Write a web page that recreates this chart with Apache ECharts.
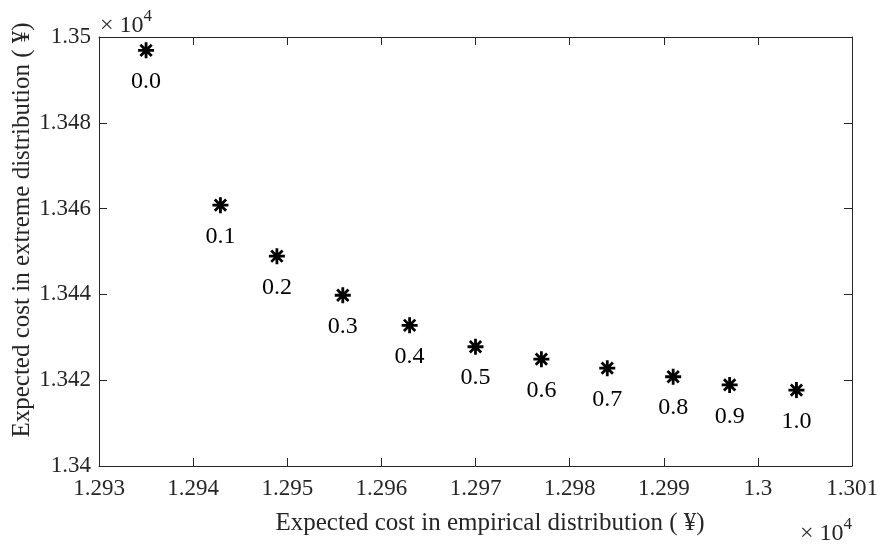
<!DOCTYPE html>
<html>
<head>
<meta charset="utf-8">
<script src="https://cdn.jsdelivr.net/npm/echarts@6/dist/echarts.min.js"></script>
<style>html,body{margin:0;padding:0;background:#fff}#c{width:889px;height:547px}</style>
</head>
<body>
<div id="c"></div>
<script>
// Data (values in yuan; axis shows ×10^4)
const weights = ['0.0','0.1','0.2','0.3','0.4','0.5','0.6','0.7','0.8','0.9','1.0'];
const empiricalCost = [12935.0, 12942.9, 12948.9, 12955.9, 12963.0, 12970.0, 12977.0, 12984.0, 12991.0, 12997.0, 13004.1];
const extremeCost   = [13496.9, 13460.8, 13448.9, 13439.8, 13432.8, 13427.8, 13424.9, 13422.8, 13420.8, 13418.9, 13417.7];
const xTickLabels = ['1.293','1.294','1.295','1.296','1.297','1.298','1.299','1.3','1.301'];
const yTickLabels = ['1.34','1.342','1.344','1.346','1.348','1.35'];
const xTitle = 'Expected cost in empirical distribution ( \u00A5)';
const yTitle = 'Expected cost in extreme distribution ( \u00A5)';

const FONT = '"Liberation Serif", "Times New Roman", serif';
const AX = '#262626';
const chart = echarts.init(document.getElementById('c'), null, {renderer: 'canvas'});

const baseAxis = {
  axisLine: {show: true, onZero: false, lineStyle: {color: AX, width: 1}},
  axisTick: {show: true, inside: true, length: 8, lineStyle: {color: AX, width: 1}},
  splitLine: {show: false},
};
const xMin = 12930, xMax = 13010, xInt = 10;
const yMin = 13400, yMax = 13500, yInt = 20;

const expText = (left, top) => ({type: 'text', left: left, top: top, style: {
  text: '{a|\u00D7 10}{b|4}', fill: '#262626',
  rich: {a: {fontFamily: FONT, fontSize: 24, verticalAlign: 'bottom', lineHeight: 30, fill: '#262626'},
         b: {fontFamily: FONT, fontSize: 17, verticalAlign: 'top', lineHeight: 30, fill: '#262626'}}}});

chart.setOption({
  animation: false,
  backgroundColor: '#fff',
  grid: {left: 99, right: 37, top: 37, bottom: 81, containLabel: false, outerBoundsMode: 'none'},
  xAxis: [
    Object.assign({}, baseAxis, {
      type: 'value', position: 'bottom', min: xMin, max: xMax, interval: xInt,
      axisLabel: {show: true, margin: 11, color: '#262626', fontFamily: FONT, fontSize: 23,
        formatter: v => xTickLabels[Math.round((v - xMin) / xInt)]}
    }),
    Object.assign({}, baseAxis, {
      type: 'value', position: 'top', min: xMin, max: xMax, interval: xInt,
      axisLabel: {show: false}
    })
  ],
  yAxis: [
    Object.assign({}, baseAxis, {
      type: 'value', position: 'left', min: yMin, max: yMax, interval: yInt,
      axisLabel: {show: true, margin: 8, color: '#262626', fontFamily: FONT, fontSize: 23,
        formatter: v => yTickLabels[Math.round((v - yMin) / yInt)]}
    }),
    Object.assign({}, baseAxis, {
      type: 'value', position: 'right', min: yMin, max: yMax, interval: yInt,
      axisLabel: {show: false}
    })
  ],
  graphic: [
    expText(100, 8),
    expText(800, 516),
    {type: 'text', x: 490, y: 523, style: {text: xTitle, fontFamily: FONT, fontSize: 25,
      fill: '#262626', align: 'center', verticalAlign: 'middle'}},
    {type: 'text', x: 22, y: 230, rotation: Math.PI / 2, style: {text: yTitle, fontFamily: FONT, fontSize: 25,
      fill: '#262626', align: 'center', verticalAlign: 'middle'}}
  ],
  series: [{
    type: 'scatter',
    xAxisIndex: 0, yAxisIndex: 0,
    data: empiricalCost.map((x, i) => [x, extremeCost[i], weights[i]]),
    symbol: 'path://M0,-10L0,10M-10,0L10,0M-7.07,-7.07L7.07,7.07M-7.07,7.07L7.07,-7.07',
    symbolSize: 16,
    itemStyle: {color: 'rgba(0,0,0,0)', borderColor: '#000', borderWidth: 2.8, opacity: 1},
    label: {show: true, position: 'bottom', distance: 10,
      formatter: p => p.data[2],
      fontFamily: FONT, fontSize: 24, color: '#000'}
  }]
});
</script>
</body>
</html>
